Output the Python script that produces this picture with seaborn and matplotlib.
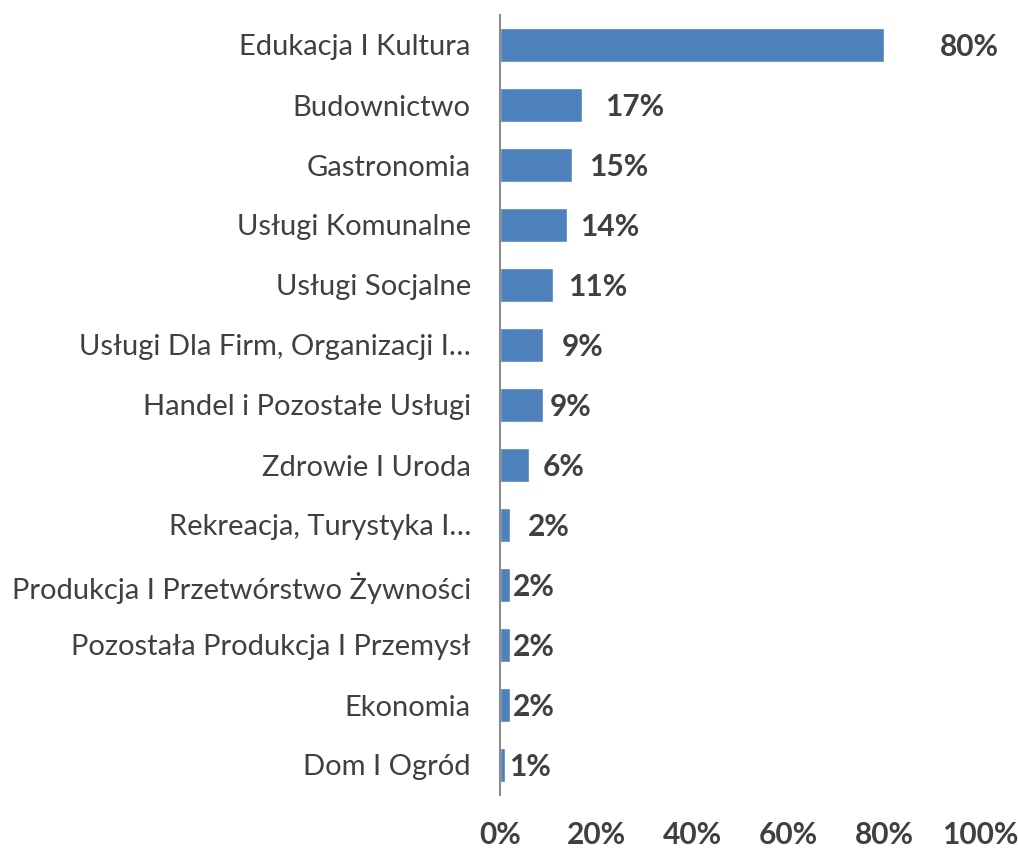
import matplotlib
matplotlib.use("Agg")
import matplotlib.pyplot as plt
import seaborn as sns
import pandas as pd

categories = ["Edukacja I Kultura", "Budownictwo", "Gastronomia", "Usługi Komunalne",
              "Usługi Socjalne", "Usługi Dla Firm, Organizacji I…", "Handel i Pozostałe Usługi",
              "Zdrowie I Uroda", "Rekreacja, Turystyka I…", "Produkcja I Przetwórstwo Żywności",
              "Pozostała Produkcja I Przemysł", "Ekonomia", "Dom I Ogród"]
values = [80, 17, 15, 14, 11, 9, 9, 6, 2, 2, 2, 2, 1]
x_ticks = [0, 20, 40, 60, 80, 100]
# per-label horizontal offsets (points) as placed in the original
label_offsets = [38, 15, 10, 7, 9, 11, 3, 8, 11, 0, 0, 0, 1]

sns.set_theme(style="white")
plt.rcParams['font.family'] = ['Lato', 'DejaVu Sans']
TXT = "#404040"

df = pd.DataFrame({"cat": categories, "val": values})
fig = plt.figure(figsize=(10.18, 8.52), dpi=100)
ax = fig.add_axes([500/1018, 1-795/852, 480/1018, 780/852])
sns.barplot(data=df, x="val", y="cat", orient="h", color="#4F81BD", saturation=1,
            width=0.57, ax=ax)
ax.set_xlim(0, 100)
ax.set_ylim(12.5, -0.5)
ax.set_xticks(x_ticks)
ax.set_xticklabels([f"{t}%" for t in x_ticks], fontsize=21.5, fontweight="bold", color=TXT)
ax.tick_params(axis="x", length=0, pad=19)
ax.tick_params(axis="y", length=0, pad=21, labelsize=21, labelcolor=TXT)
ax.set_xlabel("")
ax.set_ylabel("")
for s in ["top", "right", "bottom"]:
    ax.spines[s].set_visible(False)
ax.spines["left"].set_color("#8c8c8c")
ax.spines["left"].set_linewidth(1.5)
for i, (v, off) in enumerate(zip(values, label_offsets)):
    ax.annotate(f"{v}%", xy=(v, i), xytext=(off + 2, -1.5), textcoords="offset points",
                ha="left", va="center", fontsize=21.5, fontweight="bold", color=TXT)
fig.savefig("out.png", dpi=100)
